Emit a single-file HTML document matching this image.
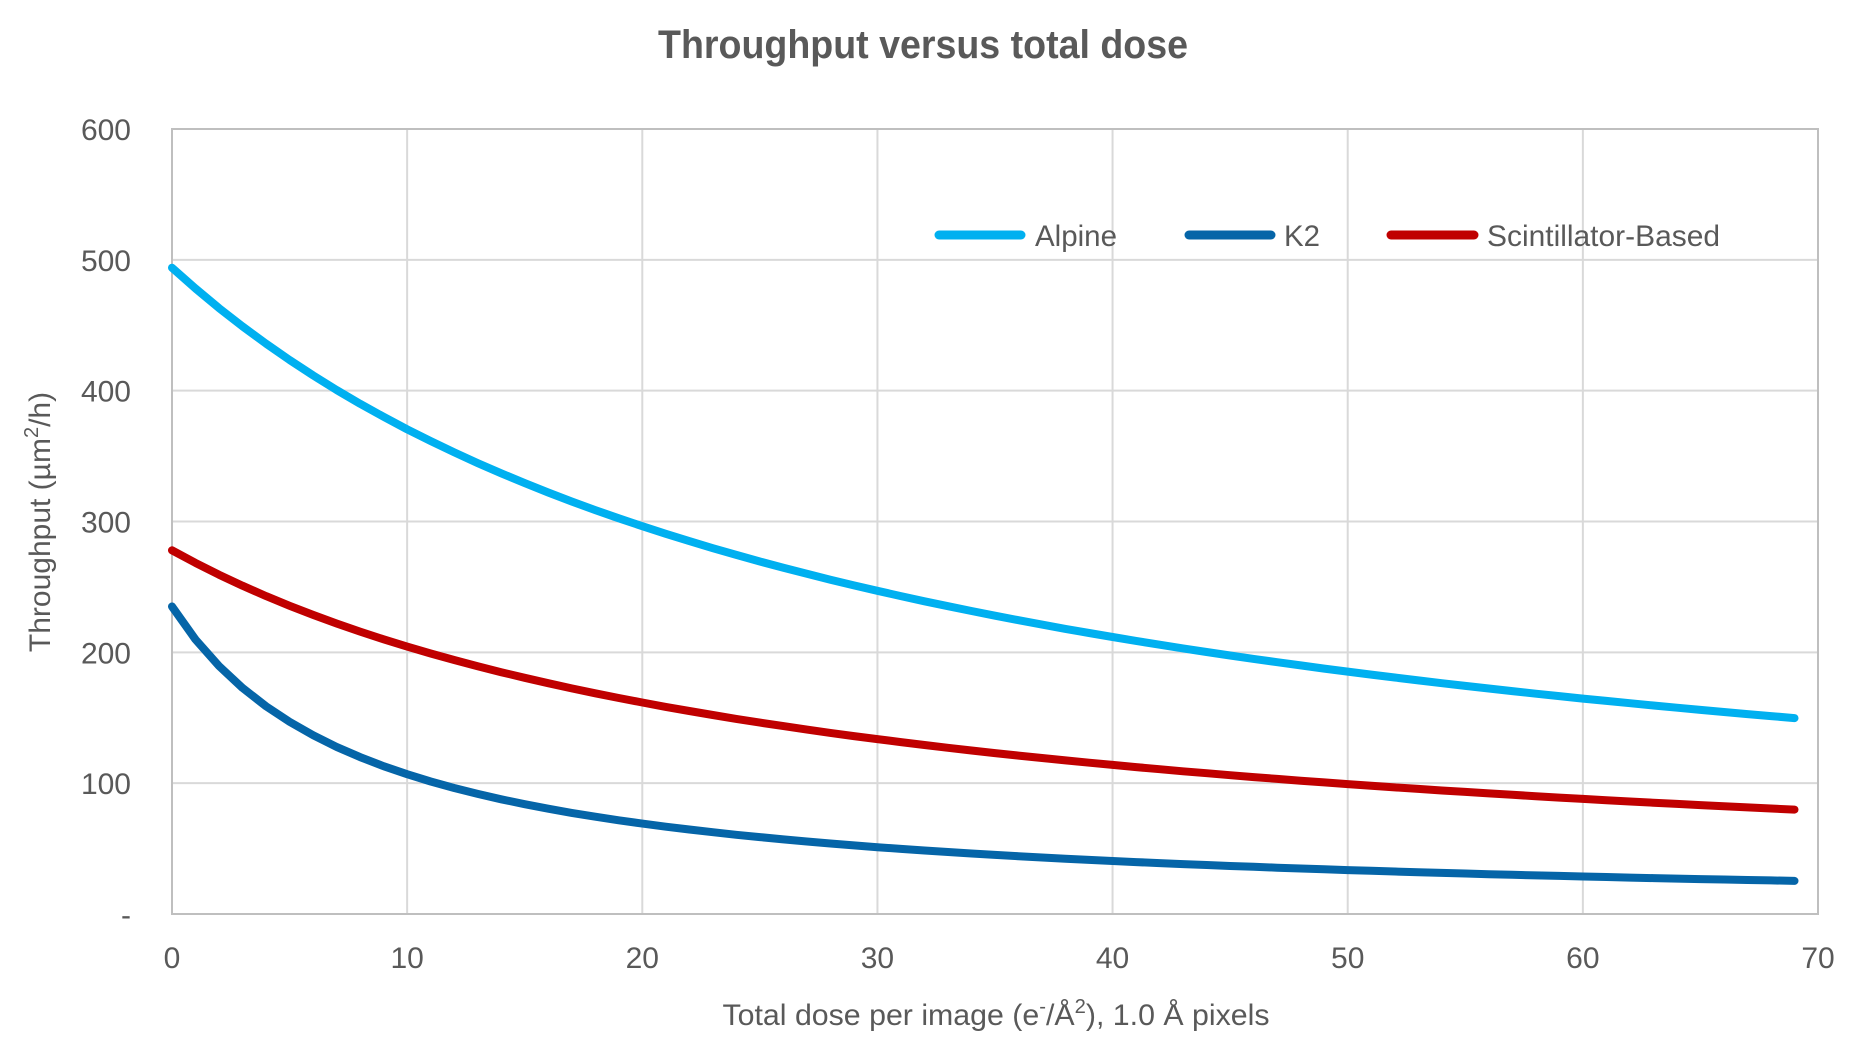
<!DOCTYPE html>
<html><head><meta charset="utf-8"><style>
html,body{margin:0;padding:0;background:#fff;}
svg{display:block;}
text{font-family:"Liberation Sans Narrow","Liberation Sans",sans-serif;fill:#595959;}
</style></head><body>
<svg id="s" width="1851" height="1045" viewBox="0 0 1851 1045" xmlns="http://www.w3.org/2000/svg">
<rect width="1851" height="1045" fill="#fff"/>
<text x="923" y="58" text-anchor="middle" font-size="40" font-weight="bold" textLength="530" lengthAdjust="spacingAndGlyphs">Throughput versus total dose</text>
<g id="grid" stroke="#d9d9d9" stroke-width="2"></g>
<rect x="172" y="129" width="1646" height="785" fill="none" stroke="#bfbfbf" stroke-width="2"/>
<g id="ylab" font-size="30" text-anchor="end"></g>
<g id="xlab" font-size="30" text-anchor="middle"></g>
<text x="996" y="1025" text-anchor="middle" font-size="30" textLength="547" lengthAdjust="spacingAndGlyphs">Total dose per image (e<tspan font-size="20" dy="-12">-</tspan><tspan dy="12">/Å</tspan><tspan font-size="20" dy="-12">2</tspan><tspan dy="12">), 1.0 Å pixels</tspan></text>
<text transform="translate(50,522) rotate(-90)" text-anchor="middle" font-size="30" style="font-family:'Liberation Sans',sans-serif">Throughput (µm<tspan font-size="20" dy="-12">2</tspan><tspan dy="12">/h)</tspan></text>
<g id="series" fill="none" stroke-width="8" stroke-linecap="round" stroke-linejoin="round"></g>
<g stroke-width="9" stroke-linecap="round">
<line x1="939" y1="235" x2="1021" y2="235" stroke="#00b0f0"/>
<line x1="1189" y1="235" x2="1271" y2="235" stroke="#0565a8"/>
<line x1="1391" y1="235" x2="1474" y2="235" stroke="#c00000"/>
</g>
<g font-size="30">
<text x="1035" y="246" textLength="82" lengthAdjust="spacingAndGlyphs">Alpine</text>
<text x="1284" y="246" textLength="36" lengthAdjust="spacingAndGlyphs">K2</text>
<text x="1487" y="246" textLength="233" lengthAdjust="spacingAndGlyphs">Scintillator-Based</text>
</g>
</svg>
<script>
var ns="http://www.w3.org/2000/svg";
function el(p,t,a,txt){var e=document.createElementNS(ns,t);for(var k in a)e.setAttribute(k,a[k]);if(txt!=null)e.textContent=txt;document.getElementById(p).appendChild(e);}
var L=172,R=1818,T=129,B=914;
function X(v){return L+(R-L)*v/70;}function Y(v){return B-(B-T)*v/600;}
for(var i=1;i<7;i++){el("grid","line",{x1:X(i*10),x2:X(i*10),y1:T,y2:B});}
for(var j=1;j<6;j++){el("grid","line",{x1:L,x2:R,y1:Y(j*100),y2:Y(j*100)});}
for(var j=0;j<=6;j++){el("ylab","text",{x:131,y:Y(j*100)+11},j==0?"-":String(j*100));}
for(var i=0;i<=7;i++){el("xlab","text",{x:X(i*10),y:968},String(i*10));}
var S=[["#00b0f0",494,1/30],["#c00000",278,0.036],["#0565a8",235,0.12]];
S.forEach(function(s){var p=[];for(var x=0;x<=69;x++){var v=s[1]/(1+s[2]*x);p.push(X(x).toFixed(1)+","+Y(v).toFixed(1));}
el("series","polyline",{points:p.join(" "),stroke:s[0]});});
</script>
</body></html>
